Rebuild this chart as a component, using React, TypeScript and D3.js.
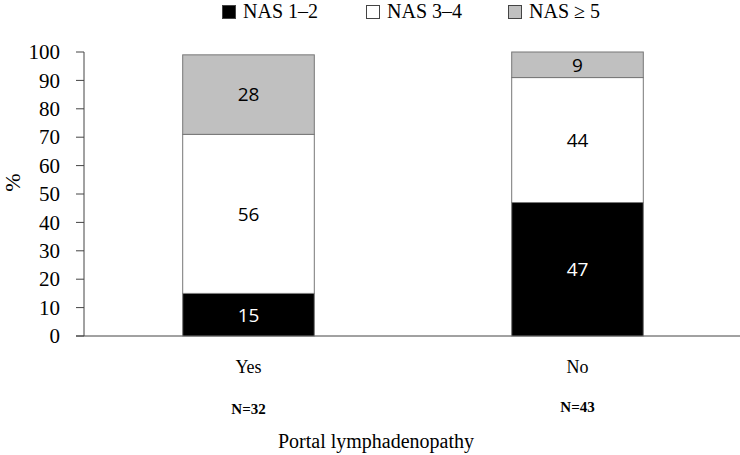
import React from 'react';
import * as d3 from 'd3';

const groups = ['Yes', 'No'];
const groupN = ['N=32', 'N=43'];
const seriesNames = ['NAS 1\u20132', 'NAS 3\u20134', 'NAS \u2265 5'];
const nas12 = [15, 47];
const nas34 = [56, 44];
const nas5 = [28, 9];
const yTicks = [0, 10, 20, 30, 40, 50, 60, 70, 80, 90, 100];

const colors = ['#000000', '#ffffff', '#c0c0c0'];
const labelColors = ['#ffffff', '#000000', '#000000'];

export default function App() {
  const width = 740;
  const height = 455;
  const margin = { top: 52, right: 0, bottom: 119, left: 84 };
  const innerH = height - margin.top - margin.bottom;

  const rows = groups.map((g, i) => ({ group: g, s0: nas12[i], s1: nas34[i], s2: nas5[i] }));
  const stacked = d3.stack<any>().keys(['s0', 's1', 's2'])(rows);

  const x = d3.scaleBand().domain(groups).range([margin.left, width + 2]).paddingInner(0.6).paddingOuter(0.3);
  const y = d3.scaleLinear().domain([0, 100]).range([margin.top + innerH, margin.top]);

  const times = '"Liberation Serif", "Times New Roman", serif';

  const legendX = [222, 366, 508];

  return (
    <svg width={width} height={height} style={{ position: 'absolute', left: 0, top: 0, background: '#fff' }}>
      {/* legend */}
      {seriesNames.map((name, i) => (
        <g key={name}>
          <rect x={legendX[i] + 0.5} y={5.5} width={13} height={13} fill={colors[i]} stroke="#444" strokeWidth={1} />
          <text x={legendX[i] + 21} y={18} fontFamily={times} fontSize={20}>{name}</text>
        </g>
      ))}

      {/* y axis */}
      <line x1={margin.left} x2={margin.left} y1={y(100)} y2={y(0)} stroke="#444" />
      {yTicks.map(t => (
        <g key={t}>
          <line x1={margin.left - 8} x2={margin.left} y1={y(t)} y2={y(t)} stroke="#444" />
          <text x={margin.left - 24} y={y(t)} dy="0.34em" textAnchor="end" fontFamily={times} fontSize={21}>{t}</text>
        </g>
      ))}
      <text transform={`translate(20,${y(54)}) rotate(-90)`} textAnchor="middle" fontFamily={times} fontSize={22}>%</text>

      {/* x axis */}
      <line x1={margin.left - 8} x2={width} y1={y(0)} y2={y(0)} stroke="#444" />

      {/* bars */}
      {stacked.map((layer, si) => (
        <g key={si}>
          {layer.map((d, gi) => {
            const bx = x(groups[gi]) as number;
            const top = y(d[1]);
            const bottom = y(d[0]);
            return (
              <g key={gi}>
                <rect x={bx} y={top} width={x.bandwidth()} height={bottom - top} fill={colors[si]} stroke="#777" strokeWidth={1} />
                <text x={bx + x.bandwidth() / 2} y={(top + bottom) / 2} dy="0.36em" textAnchor="middle"
                  fontFamily='"Open Sans", sans-serif' fontSize={19} fill={labelColors[si]}>
                  {d[1] - d[0]}
                </text>
              </g>
            );
          })}
        </g>
      ))}

      {/* category labels */}
      {groups.map((g, i) => {
        const cx = (x(g) as number) + x.bandwidth() / 2;
        return (
          <g key={g}>
            <text x={cx} y={373} textAnchor="middle" fontFamily={times} fontSize={18}>{g}</text>
            <text x={cx} y={414 - i * 2} textAnchor="middle" fontFamily={times} fontSize={15} fontWeight="bold">{groupN[i]}</text>
          </g>
        );
      })}
      <text x={376} y={448} textAnchor="middle" fontFamily={times} fontSize={20}>Portal lymphadenopathy</text>
    </svg>
  );
}
